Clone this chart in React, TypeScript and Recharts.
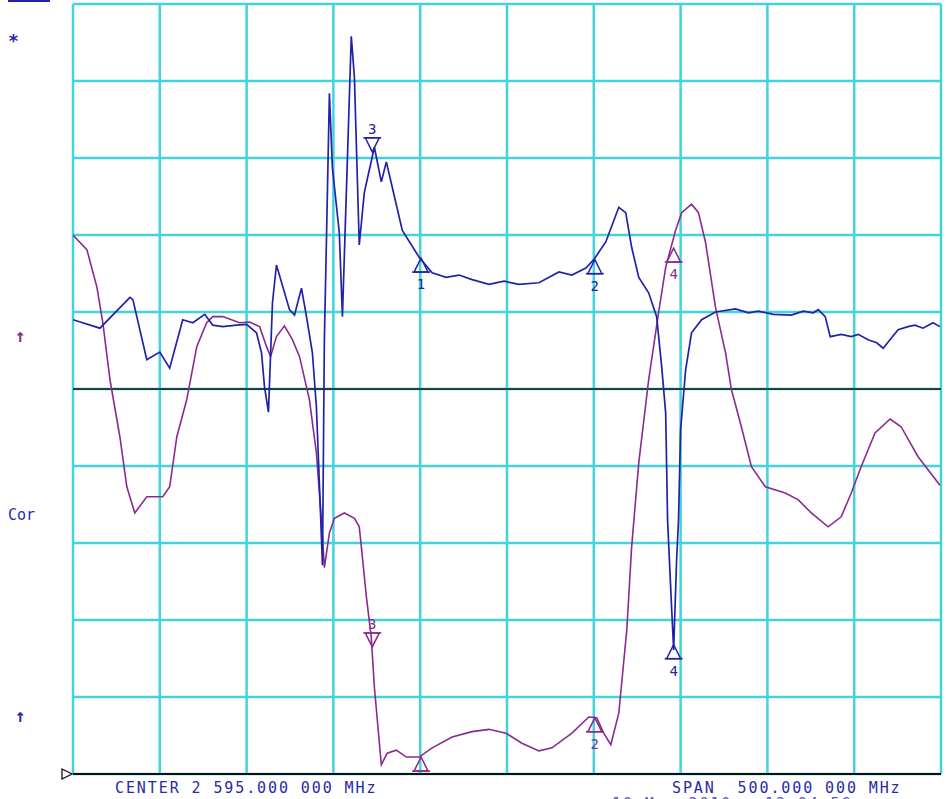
import React from 'react'
import {
  ComposedChart,
  Line,
  Scatter,
  XAxis,
  YAxis,
  CartesianGrid,
  ReferenceLine,
} from 'recharts'

// sweep: center 2595 MHz, span 500 MHz, 10 divisions
const freqTicks = [2345, 2395, 2445, 2495, 2545, 2595, 2645, 2695, 2745, 2795, 2845]
const levelTicks = [0, 1, 2, 3, 4, 5, 6, 7, 8, 9, 10]

// trace 1 (blue), level in divisions from bottom
const blueFreq = [
  2345.0, 2360.5, 2377.8, 2379.5, 2387.5, 2395.0, 2400.7, 2408.2, 2414.0, 2420.9,
  2425.5, 2431.2, 2439.3, 2445.0, 2450.7, 2453.6, 2455.3, 2457.6, 2459.9, 2462.2,
  2469.7, 2472.6, 2476.6, 2479.5, 2482.9, 2485.2, 2487.0, 2488.7, 2489.8, 2491.0,
  2492.7, 2494.4, 2498.4, 2500.2, 2505.3, 2507.1, 2509.9, 2512.8, 2518.6, 2522.6,
  2525.5, 2528.9, 2534.7, 2544.4, 2551.9, 2559.9, 2567.4, 2574.9, 2584.6, 2593.3,
  2601.9, 2613.4, 2624.9, 2632.4, 2640.4, 2645.0, 2651.9, 2659.4, 2663.4, 2666.8,
  2670.9, 2676.6, 2681.2, 2684.1, 2686.4, 2687.5, 2689.8, 2691.0, 2692.7, 2693.8,
  2695.0, 2697.9, 2701.3, 2707.1, 2715.1, 2726.6, 2734.1, 2739.8, 2748.4, 2758.8,
  2765.7, 2771.4, 2774.3, 2778.3, 2781.2, 2787.5, 2793.3, 2797.3, 2803.0, 2808.0,
  2811.7, 2816.3, 2820.3, 2826.0, 2830.0, 2834.6, 2840.4, 2844.4,
]
const blueLevel = [
  5.9, 5.79, 6.19, 6.16, 5.38, 5.48, 5.27, 5.9, 5.86, 5.97,
  5.83, 5.81, 5.83, 5.84, 5.73, 5.47, 5.03, 4.7, 6.12, 6.61,
  6.03, 5.96, 6.31, 5.94, 5.47, 4.77, 3.73, 2.71, 5.64, 6.94,
  8.84, 7.88, 7.03, 5.94, 9.58, 9.05, 6.87, 7.55, 8.14, 7.69,
  7.95, 7.62, 7.06, 6.71, 6.51, 6.45, 6.48, 6.42, 6.36, 6.4,
  6.36, 6.38, 6.52, 6.48, 6.57, 6.68, 6.91, 7.36, 7.29, 6.84,
  6.45, 6.25, 5.94, 5.29, 4.69, 3.3, 2.17, 1.61, 2.78, 3.3,
  4.47, 5.25, 5.73, 5.9, 6.0, 6.04, 5.99, 6.01, 5.97, 5.96,
  6.01, 5.99, 6.03, 5.94, 5.68, 5.71, 5.68, 5.71, 5.64, 5.6,
  5.53, 5.66, 5.77, 5.81, 5.83, 5.79, 5.86, 5.81,
]

// trace 2 (purple)
const purpleFreq = [
  2345.0, 2353.0, 2358.8, 2362.2, 2366.3, 2372.0, 2376.0, 2380.6, 2387.5, 2396.7,
  2400.7, 2404.8, 2410.5, 2416.3, 2422.0, 2425.5, 2431.2, 2441.0, 2446.7, 2452.5,
  2456.5, 2458.8, 2462.2, 2466.8, 2471.4, 2475.5, 2481.2, 2485.2, 2488.1, 2489.8,
  2492.7, 2495.6, 2501.3, 2507.1, 2509.9, 2511.1, 2514.0, 2516.8, 2518.6, 2522.6,
  2526.0, 2531.2, 2537.0, 2544.4, 2551.9, 2563.4, 2574.9, 2584.6, 2594.4, 2603.6,
  2613.4, 2620.9, 2632.4, 2642.1, 2646.7, 2650.7, 2654.8, 2659.4, 2664.0, 2666.8,
  2670.9, 2676.6, 2682.3, 2686.4, 2692.1, 2695.6, 2701.3, 2705.3, 2709.4, 2715.1,
  2720.9, 2724.3, 2730.0, 2735.8, 2743.8, 2755.3, 2762.8, 2770.3, 2780.0, 2787.5,
  2793.3, 2799.0, 2807.0, 2815.7, 2822.0, 2831.8, 2844.4,
]
const purpleLevel = [
  7.0, 6.81, 6.32, 5.86, 5.12, 4.38, 3.73, 3.39, 3.6, 3.6,
  3.73, 4.38, 4.86, 5.55, 5.86, 5.94, 5.94, 5.86, 5.87, 5.81,
  5.55, 5.42, 5.68, 5.82, 5.64, 5.42, 4.86, 4.17, 3.3, 2.68,
  3.13, 3.32, 3.39, 3.32, 3.21, 2.95, 2.3, 1.78, 1.13, 0.12,
  0.27, 0.31, 0.22, 0.22, 0.34, 0.48, 0.55, 0.58, 0.53, 0.4,
  0.3, 0.34, 0.53, 0.74, 0.73, 0.53, 0.38, 0.79, 1.87, 2.95,
  4.04, 5.12, 5.99, 6.58, 7.06, 7.29, 7.4, 7.29, 6.9, 6.06,
  5.47, 4.99, 4.51, 3.99, 3.73, 3.65, 3.56, 3.39, 3.21, 3.34,
  3.65, 3.99, 4.43, 4.61, 4.51, 4.12, 3.75,
]

// markers 1..4 (same frequencies on both traces)
const markerLabels = ['1', '2', '3', '4']
const markerFreq = [2545.5, 2645.6, 2517.4, 2691.0]
const markerDown = [false, false, true, false]
const blueMarkerLevel = [6.7, 6.68, 8.08, 1.68]
const purpleMarkerLevel = [0.22, 0.73, 1.65, 6.83]

const BLUE = '#2222a8'
const PURPLE = '#8a2a90'
const GRID = '#43d3dc'
const TEXT_BLUE = '#2a2aa6'

const blueData = blueFreq.map((f, i) => ({ f, level: blueLevel[i] }))
const purpleData = purpleFreq.map((f, i) => ({ f, level: purpleLevel[i] }))
const makeMarkers = (levels: number[]) =>
  markerFreq.map((f, i) => ({ f, level: levels[i], label: markerLabels[i], down: markerDown[i] }))

function markerShape(color: string) {
  return (props: any) => {
    const { cx, cy, payload } = props
    if (cx == null || cy == null) return <g />
    const h = 14
    const w = 7
    const s = payload.down ? -1 : 1
    const base = cy + s * h
    return (
      <g>
        <polygon
          points={`${cx},${cy} ${cx - w},${base} ${cx + w},${base}`}
          fill="none"
          stroke={color}
          strokeWidth={1.5}
        />
        <line x1={cx - 9} y1={base} x2={cx + 9} y2={base} stroke={color} strokeWidth={1.5} />
        <text
          x={cx}
          y={payload.down ? cy - 18 : cy + 31}
          textAnchor="middle"
          fontFamily="'DejaVu Sans Mono', monospace"
          fontSize={14}
          fill={color}
        >
          {payload.label}
        </text>
      </g>
    )
  }
}

const label = (style: React.CSSProperties, text: string) => (
  <div
    style={{
      position: 'absolute',
      fontFamily: "'DejaVu Sans Mono', monospace",
      fontSize: 15,
      lineHeight: '16px',
      color: TEXT_BLUE,
      whiteSpace: 'pre',
      ...style,
    }}
  >
    {text}
  </div>
)

export default function App() {
  return (
    <div
      style={{
        position: 'absolute',
        left: 0,
        top: 0,
        width: 946,
        height: 799,
        overflow: 'hidden',
        background: '#fff',
      }}
    >
      <ComposedChart
        width={946}
        height={799}
        margin={{ top: 4, right: 5, bottom: 25, left: 73 }}
      >
        <XAxis
          dataKey="f"
          type="number"
          domain={[2345, 2845]}
          ticks={freqTicks}
          allowDataOverflow
          hide
        />
        <YAxis
          dataKey="level"
          type="number"
          domain={[0, 10]}
          ticks={levelTicks}
          allowDataOverflow
          hide
        />
        <CartesianGrid stroke={GRID} strokeWidth={2.5} />
        <ReferenceLine y={5} stroke="#111" strokeWidth={1.6} />
        <ReferenceLine y={0} stroke="#111" strokeWidth={2} />
        <Line
          data={purpleData}
          dataKey="level"
          type="linear"
          stroke={PURPLE}
          strokeWidth={1.6}
          dot={false}
          isAnimationActive={false}
        />
        <Line
          data={blueData}
          dataKey="level"
          type="linear"
          stroke={BLUE}
          strokeWidth={1.7}
          dot={false}
          isAnimationActive={false}
        />
        <Scatter
          data={makeMarkers(purpleMarkerLevel)}
          dataKey="level"
          shape={markerShape(PURPLE)}
          isAnimationActive={false}
        />
        <Scatter
          data={makeMarkers(blueMarkerLevel)}
          dataKey="level"
          shape={markerShape(BLUE)}
          isAnimationActive={false}
        />
      </ComposedChart>

      <div style={{ position: 'absolute', left: 8, top: 0, width: 42, height: 2, background: BLUE }} />
      {label({ left: 8, top: 33, fontSize: 18, fontWeight: 700 }, '*')}
      {label({ left: 15, top: 328, color: PURPLE, fontSize: 18, fontWeight: 700 }, '↑')}
      {label({ left: 8, top: 507 }, 'Cor')}
      {label({ left: 15, top: 708, fontSize: 18, fontWeight: 700 }, '↑')}
      <svg style={{ position: 'absolute', left: 60, top: 767 }} width={16} height={14}>
        <polygon points="2,2 12,7 2,12" fill="#fff" stroke="#111" strokeWidth={1.3} />
      </svg>
      {label({ left: 115, top: 780, letterSpacing: 1.9 }, 'CENTER 2 595.000 000 MHz')}
      {label({ left: 672, top: 780, letterSpacing: 1.9 }, 'SPAN  500.000 000 MHz')}
      {label({ left: 612, top: 796, letterSpacing: 1.9, color: '#5a5ab0' }, '10 Mar 2010   13:04:56')}
    </div>
  )
}
